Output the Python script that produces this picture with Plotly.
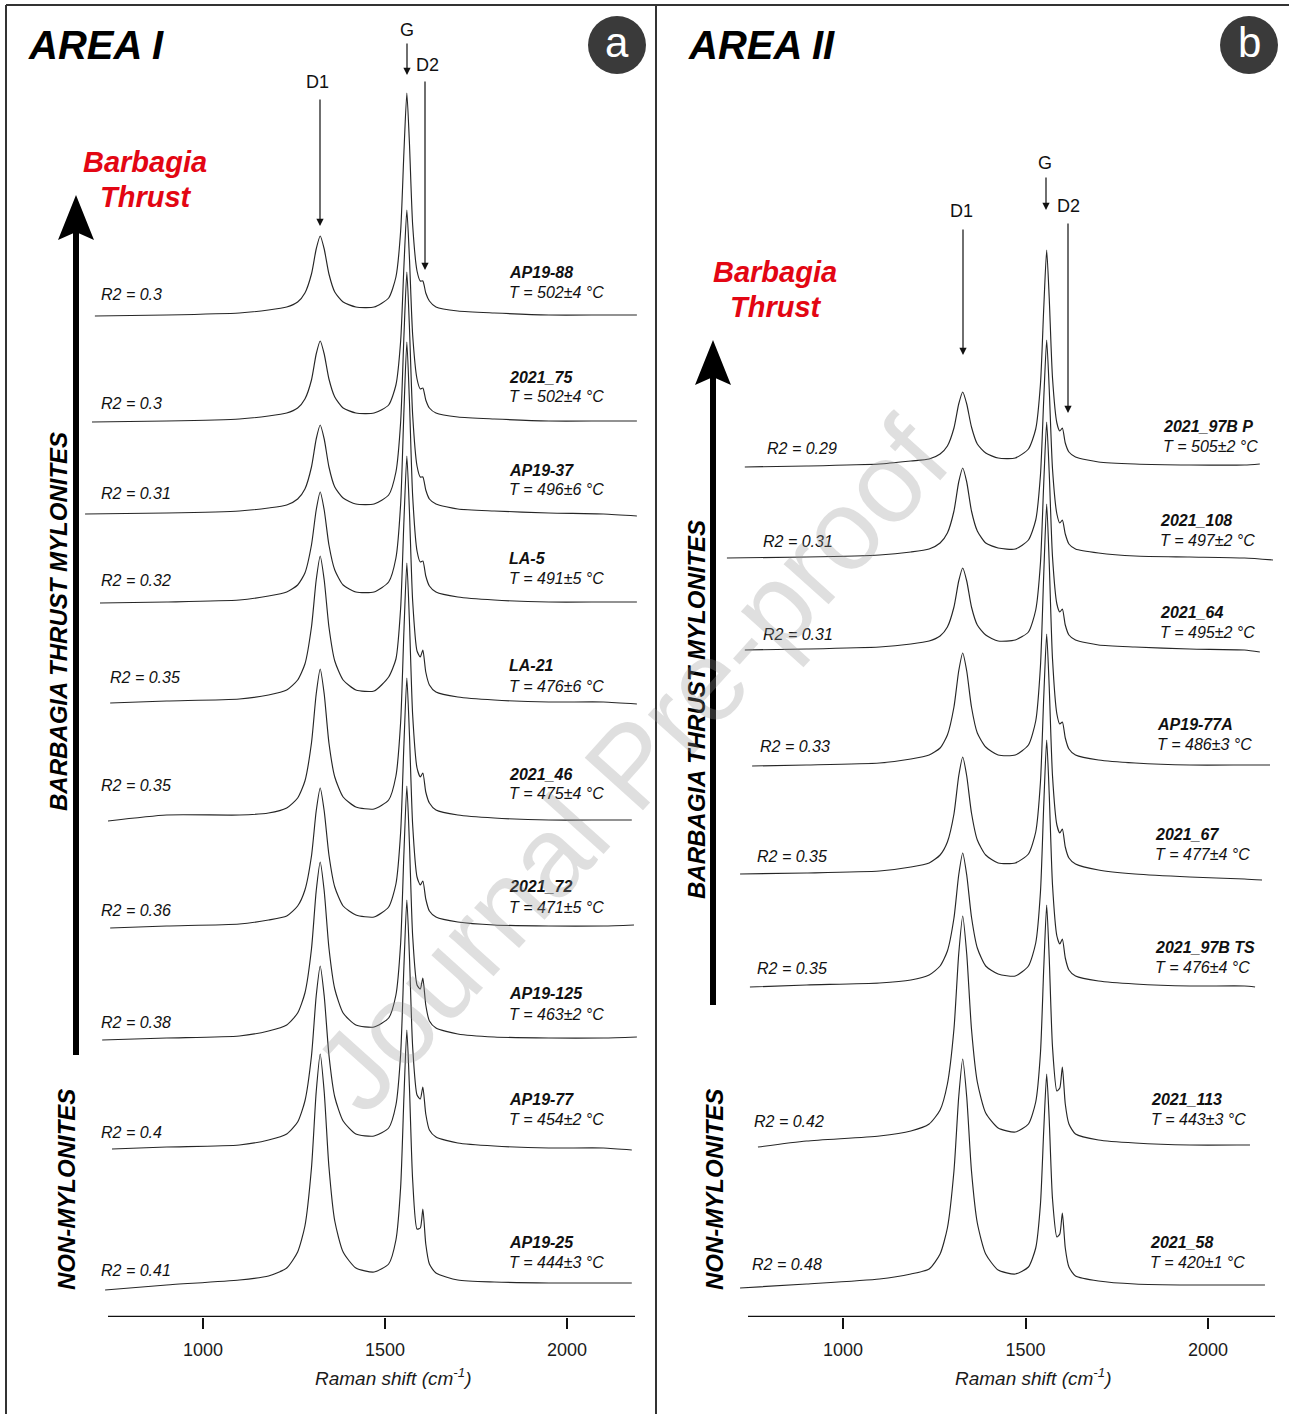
import plotly.graph_objects as go

W, H = 1289, 1414
Y0 = 1317  # pixel row of the x axis line

# ---------------- data ----------------
GRID_A = [900, 1100, 1180, 1230, 1260, 1280, 1298, 1311, 1322, 1333, 1346, 1362, 1385, 1420, 1470,
          1510, 1530, 1543, 1552, 1560, 1567, 1576, 1588, 1597, 1604, 1612, 1622, 1640, 1700, 1800, 1950, 2100]
GRID_B = [900, 1100, 1186, 1236, 1266, 1286, 1304, 1317, 1328, 1339, 1352, 1368, 1391, 1425, 1472,
          1508, 1528, 1541, 1550, 1558, 1565, 1574, 1586, 1594, 1601, 1609, 1619, 1637, 1700, 1800, 1950, 2100]

NAMES_A = ["AP19-88", "2021_75", "AP19-37", "LA-5", "LA-21", "2021_46", "2021_72", "AP19-125", "AP19-77", "AP19-25"]
TEMPS_A = ["502±4", "502±4", "496±6", "491±5", "476±6", "475±4", "471±5", "463±2", "454±2", "444±3"]
R2_A = ["0.3", "0.3", "0.31", "0.32", "0.35", "0.35", "0.36", "0.38", "0.4", "0.41"]
START_A = [703, 695, 676, 717, 745, 739, 745, 723, 750, 731]
END_A = [2192, 2192, 2192, 2192, 2192, 2178, 2184, 2192, 2178, 2178]
OFFSET_A = [1001, 895, 803, 714, 614, 496, 389, 277, 168, 27]
SPEC_A = [
    [0, 1, 3, 6, 9, 14, 23, 42, 67, 80, 67, 42, 24, 14, 9, 9, 18, 39, 85, 164, 223, 174, 91, 45, 35, 35, 23, 15, 9, 5, 3, 1, 1, 1],
    [0, 1, 3, 6, 9, 14, 23, 42, 68, 81, 68, 43, 25, 14, 9, 9, 17, 37, 81, 156, 212, 165, 87, 43, 33, 34, 22, 14, 9, 5, 3, 1, 1, 1],
    [0, 1, 3, 6, 9, 15, 25, 47, 75, 89, 75, 47, 27, 16, 10, 10, 19, 42, 92, 178, 242, 188, 99, 48, 37, 37, 24, 15, 10, 5, 3, 1, 0, -2],
    [0, 1, 3, 7, 11, 18, 30, 58, 93, 111, 93, 58, 33, 18, 11, 11, 21, 45, 99, 192, 261, 203, 107, 52, 41, 42, 27, 17, 11, 6, 3, 1, 1, 1],
    [0, 2, 4, 8, 13, 23, 39, 76, 123, 147, 123, 76, 42, 23, 13, 12, 26, 44, 95, 182, 247, 193, 102, 52, 46, 53, 31, 18, 11, 6, 3, 1, 1, -1],
    [0, 6, 6, 8, 13, 23, 40, 78, 127, 152, 127, 78, 44, 24, 14, 12, 21, 45, 99, 190, 258, 201, 106, 53, 44, 48, 29, 18, 11, 6, 3, 1, 1, 1],
    [0, 2, 4, 8, 12, 22, 38, 72, 117, 140, 117, 73, 41, 22, 13, 11, 21, 44, 96, 184, 250, 195, 103, 51, 43, 47, 29, 17, 11, 6, 3, 2, 2, 3],
    [0, 2, 4, 9, 15, 27, 47, 91, 149, 178, 149, 92, 51, 27, 15, 13, 22, 45, 97, 187, 254, 198, 104, 55, 51, 62, 35, 19, 12, 6, 3, 2, 2, 3],
    [0, 2, 4, 9, 15, 27, 48, 93, 153, 183, 153, 94, 52, 28, 15, 13, 21, 44, 95, 183, 249, 194, 102, 54, 50, 62, 35, 19, 12, 6, 3, 1, 1, -1],
    [0, 5, 10, 14, 22, 38, 64, 122, 198, 236, 198, 123, 69, 38, 22, 18, 26, 50, 103, 193, 260, 204, 110, 61, 62, 81, 46, 26, 17, 10, 8, 7, 7, 7],
]

NAMES_B = ["2021_97B P", "2021_108", "2021_64", "AP19-77A", "2021_67", "2021_97B TS", "2021_113", "2021_58"]
TEMPS_B = ["505±2", "497±2", "495±2", "486±3", "477±4", "476±4", "443±3", "420±1"]
R2_B = ["0.29", "0.31", "0.31", "0.33", "0.35", "0.35", "0.42", "0.48"]
START_B = [731, 682, 731, 751, 718, 745, 767, 718]
END_B = [2142, 2178, 2142, 2170, 2148, 2129, 2115, 2156]
OFFSET_B = [850, 759, 667, 551, 443, 330, 170, 29]
SPEC_B = [
    [0, 1, 3, 6, 8, 13, 21, 39, 63, 75, 63, 40, 23, 14, 9, 9, 18, 38, 83, 159, 217, 169, 89, 44, 36, 39, 24, 15, 10, 5, 3, 2, 2, 3],
    [0, 1, 3, 6, 9, 15, 25, 47, 76, 90, 76, 47, 27, 15, 10, 9, 18, 38, 83, 159, 218, 169, 89, 44, 35, 38, 24, 14, 9, 5, 2, 1, 0, -2],
    [0, 1, 3, 6, 9, 14, 23, 43, 69, 82, 69, 43, 25, 15, 9, 10, 18, 40, 87, 167, 228, 177, 93, 46, 38, 41, 25, 15, 10, 5, 3, 1, 0, -2],
    [0, 1, 3, 7, 11, 18, 31, 59, 95, 113, 95, 59, 33, 19, 11, 11, 21, 45, 100, 192, 262, 203, 107, 52, 42, 44, 28, 17, 11, 6, 3, 1, 1, 1],
    [0, 1, 3, 7, 11, 19, 32, 60, 98, 117, 98, 61, 34, 19, 11, 11, 20, 42, 92, 177, 240, 187, 98, 49, 41, 45, 27, 16, 10, 4, 0, -3, -5, -6],
    [0, 2, 4, 7, 12, 21, 36, 69, 112, 134, 112, 70, 39, 21, 13, 11, 21, 44, 95, 182, 247, 193, 102, 51, 43, 48, 29, 17, 11, 6, 3, 1, 1, 0],
    [0, 6, 11, 16, 23, 37, 63, 118, 193, 231, 193, 118, 65, 34, 19, 15, 23, 45, 94, 179, 242, 189, 100, 56, 59, 80, 43, 23, 13, 7, 4, 2, 2, 2],
    [0, 4, 9, 14, 19, 34, 60, 117, 191, 229, 191, 117, 65, 34, 18, 14, 21, 40, 84, 158, 214, 168, 89, 51, 54, 75, 40, 21, 12, 7, 4, 3, 3, 3],
]

TICK_VALS = [1000, 1500, 2000]
TICK_TEXT = ["1000", "1500", "2000"]

# ---------------- layout helpers ----------------
def wn_a(px):
    return 1000 + (px - 203) * 500 / 182.0

def wn_b(px):
    return 1000 + (px - 843) * 500 / 182.5

def fx(px):
    return px / W

def fy(py):
    return 1 - py / H

FONT = "Arial, Liberation Sans, sans-serif"
LINE_COLOR = "#262626"

fig = go.Figure()

for names, starts, ends, offs, specs, grid, xa in [
    (NAMES_A, START_A, END_A, OFFSET_A, SPEC_A, GRID_A, "x"),
    (NAMES_B, START_B, END_B, OFFSET_B, SPEC_B, GRID_B, "x2"),
]:
    for n, s, e, o, v in zip(names, starts, ends, offs, specs):
        xs = [s] + grid + [e]
        ys = [o + val for val in v]
        fig.add_trace(go.Scatter(
            x=xs, y=ys, mode="lines", name=n, xaxis=xa, yaxis="y" if xa == "x" else "y2",
            line=dict(color=LINE_COLOR, width=1.15, shape="spline", smoothing=0.6),
            hoverinfo="skip", showlegend=False))

axis_common = dict(
    tickmode="array", tickvals=TICK_VALS, ticktext=TICK_TEXT,
    ticks="outside", ticklen=11, tickwidth=2, tickcolor="#111",
    tickfont=dict(family=FONT, size=18, color="#1a1a1a"),
    ticklabelstandoff=5,
    showgrid=False, zeroline=False, showline=False,
)
ydom = [fy(Y0), 1.0]
fig.update_layout(
    width=W, height=H,
    margin=dict(l=0, r=0, t=0, b=0),
    paper_bgcolor="white", plot_bgcolor="white",
    xaxis=dict(domain=[fx(80), fx(650)], range=[wn_a(80), wn_a(650)], anchor="y", **axis_common),
    xaxis2=dict(domain=[fx(718), fx(1289)], range=[wn_b(718), wn_b(1289)], anchor="y2", **axis_common),
    yaxis=dict(domain=ydom, range=[0, Y0], visible=False, anchor="x"),
    yaxis2=dict(domain=ydom, range=[0, Y0], visible=False, anchor="x2"),
)

shapes = []
ann = []

# axis lines
shapes.append(dict(type="line", xref="x", yref="y", x0=wn_a(108), x1=wn_a(635), y0=0, y1=0,
                   line=dict(color="#111", width=2.5)))
shapes.append(dict(type="line", xref="x2", yref="y2", x0=wn_b(748), x1=wn_b(1275), y0=0, y1=0,
                   line=dict(color="#111", width=2.5)))

# frame
for x0, y0, x1, y1 in [(6, 5, 1289, 5), (6, 5, 6, 1414), (656, 5, 656, 1414)]:
    shapes.append(dict(type="line", xref="paper", yref="paper", x0=fx(x0), x1=fx(x1), y0=fy(y0), y1=fy(y1),
                       line=dict(color="#333", width=2)))

# panel circles
for cx, lab in [(617, "a"), (1249, "b")]:
    shapes.append(dict(type="circle", xref="paper", yref="paper", x0=fx(cx - 29), x1=fx(cx + 29),
                       y0=fy(16), y1=fy(74), fillcolor="#3a3a3a", line=dict(width=0)))
    ann.append(dict(xref="paper", yref="paper", x=fx(cx), y=fy(43), text=lab, showarrow=False,
                    xanchor="center", yanchor="middle", font=dict(family=FONT, size=42, color="white")))

# big black arrows
for x, ytip, ybot in [(76, 195, 1055), (713, 340, 1005)]:
    shapes.append(dict(type="line", xref="paper", yref="paper", x0=fx(x), x1=fx(x), y0=fy(ybot), y1=fy(ytip + 35),
                       line=dict(color="black", width=6)))
    path = "M {} {} L {} {} L {} {} L {} {} Z".format(
        fx(x), fy(ytip), fx(x + 18), fy(ytip + 45), fx(x), fy(ytip + 37), fx(x - 18), fy(ytip + 45))
    shapes.append(dict(type="path", xref="paper", yref="paper", path=path, fillcolor="black", line=dict(width=0)))

# titles
ann.append(dict(xref="paper", yref="paper", x=fx(26), y=fy(45), text="<b><i>AREA I</i></b>", showarrow=False,
                xanchor="left", yanchor="middle", font=dict(family=FONT, size=40, color="black")))
ann.append(dict(xref="paper", yref="paper", x=fx(686), y=fy(45), text="<b><i>AREA II</i></b>", showarrow=False,
                xanchor="left", yanchor="middle", font=dict(family=FONT, size=40, color="black")))

# Barbagia Thrust
for cx, cy in [(145, 162), (775, 272)]:
    ann.append(dict(xref="paper", yref="paper", x=fx(cx), y=fy(cy), text="<b><i>Barbagia</i></b>", showarrow=False,
                    xanchor="center", yanchor="middle", font=dict(family=FONT, size=29, color="#e30613")))
    ann.append(dict(xref="paper", yref="paper", x=fx(cx + 1), y=fy(cy + 35), text="<b><i>Thrust</i></b>", showarrow=False,
                    xanchor="center", yanchor="middle", font=dict(family=FONT, size=29, color="#e30613")))

# rotated side labels
for x, y, t in [(58, 622, "BARBAGIA THRUST MYLONITES"), (696, 710, "BARBAGIA THRUST MYLONITES"),
                (66, 1190, "NON-MYLONITES"), (714, 1190, "NON-MYLONITES")]:
    ann.append(dict(xref="paper", yref="paper", x=fx(x), y=fy(y), text="<b><i>%s</i></b>" % t, showarrow=False,
                    textangle=-90, xanchor="center", yanchor="middle",
                    font=dict(family=FONT, size=24, color="black")))

# axis titles
for cx in [393, 1033]:
    ann.append(dict(xref="paper", yref="paper", x=fx(cx), y=fy(1377), text="<i>Raman shift (cm<sup>-1</sup>)</i>",
                    showarrow=False, xanchor="center", yanchor="middle",
                    font=dict(family=FONT, size=19, color="#1a1a1a")))

# peak arrows (tip positions in data coords, tail offsets in px)
def peak_arrow(xref, yref, xw, ypx, tail_py, label, lab_px, lab_py):
    ann.append(dict(xref=xref, yref=yref, x=xw, y=Y0 - ypx, ax=0, ay=-(ypx - tail_py), text="",
                    showarrow=True, arrowhead=2, arrowsize=1.2, arrowwidth=1.2, arrowcolor="#111",
                    axref="pixel", ayref="pixel"))
    ann.append(dict(xref="paper", yref="paper", x=fx(lab_px), y=fy(lab_py), text=label, showarrow=False,
                    xanchor="center", yanchor="middle", font=dict(family=FONT, size=18, color="#111")))

peak_arrow("x", "y", wn_a(320), 226, 98, "D1", 317, 82)
peak_arrow("x", "y", wn_a(407), 75, 42, "G", 407, 30)
peak_arrow("x", "y", wn_a(425), 270, 80, "D2", 427, 65)
peak_arrow("x2", "y2", wn_b(963), 355, 228, "D1", 961, 211)
peak_arrow("x2", "y2", wn_b(1046), 210, 176, "G", 1045, 163)
peak_arrow("x2", "y2", wn_b(1068), 413, 222, "D2", 1068, 206)

# sample labels (pixel anchor positions)
LAB_A = [(509, 272, 101, 295), (509, 377, 101, 403), (509, 470, 101, 494), (509, 558, 101, 581),
         (509, 666, 110, 677), (509, 774, 101, 785), (509, 887, 101, 910), (509, 994, 101, 1022),
         (509, 1099, 101, 1132), (509, 1242, 101, 1270)]
LAB_B = [(1163, 426, 767, 448), (1160, 520, 763, 541), (1160, 612, 763, 634), (1157, 724, 760, 746),
         (1155, 834, 757, 856), (1155, 947, 757, 969), (1151, 1099, 754, 1121), (1150, 1242, 752, 1264)]

for names, temps, r2s, labs in [(NAMES_A, TEMPS_A, R2_A, LAB_A), (NAMES_B, TEMPS_B, R2_B, LAB_B)]:
    for n, t, r, (lx, ly, rx, ry) in zip(names, temps, r2s, labs):
        ann.append(dict(xref="paper", yref="paper", x=fx(lx - 2), y=fy(ly), text="<b><i>%s</i></b>" % n,
                        showarrow=False, xanchor="left", yanchor="middle",
                        font=dict(family=FONT, size=16, color="#111")))
        ann.append(dict(xref="paper", yref="paper", x=fx(lx - 2), y=fy(ly + 20), text="<i>T = %s °C</i>" % t,
                        showarrow=False, xanchor="left", yanchor="middle",
                        font=dict(family=FONT, size=16, color="#111")))
        ann.append(dict(xref="paper", yref="paper", x=fx(rx - 2), y=fy(ry), text="<i>R2 = %s</i>" % r,
                        showarrow=False, xanchor="left", yanchor="middle",
                        font=dict(family=FONT, size=16, color="#111")))

# watermark
ann.append(dict(xref="paper", yref="paper", x=fx(630), y=fy(765), text="Journal Pre-proof", showarrow=False,
                textangle=-48, xanchor="center", yanchor="middle",
                font=dict(family=FONT, size=114, color="rgba(150,150,150,0.3)")))

fig.update_layout(shapes=shapes, annotations=ann)
fig.write_html("out.html")
